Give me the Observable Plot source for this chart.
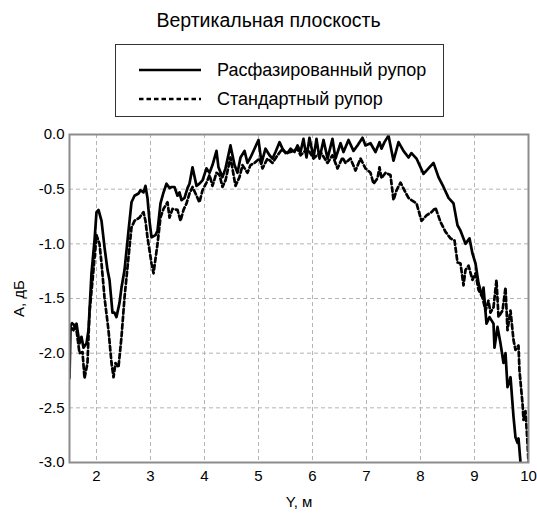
<!DOCTYPE html>
<html>
<head>
<meta charset="utf-8">
<script src="https://cdn.jsdelivr.net/npm/d3@7"></script>
<script src="https://cdn.jsdelivr.net/npm/@observablehq/plot@0.6"></script>
<style>
  html, body { margin: 0; padding: 0; background: #fff; }
  body { width: 537px; height: 513px; position: relative; font-family: "Liberation Sans", Arial, sans-serif; color: #000; overflow: hidden; }
  #title { position: absolute; left: 0; top: 9px; width: 537px; text-align: center; font-size: 19.5px; }
  #legend { position: absolute; left: 115px; top: 44px; width: 329px; height: 73px; border: 1.5px solid #333; box-sizing: border-box; background: #fff; }
  .row { position: absolute; left: 0; height: 22px; display: flex; align-items: center; font-size: 18px; }
  .row svg { margin-left: 23px; margin-right: 16px; }
  #chart { position: absolute; left: 0; top: 120px; }
</style>
</head>
<body>
<div id="title"></div>
<div id="legend"></div>
<div id="chart"></div>
<script>
const titleText = "Вертикальная плоскость";
const seriesNames = ["Расфазированный рупор", "Стандартный рупор"];
const xLabel = "Y, м";
const yLabel = "А, дБ";
const xTicks = [2, 3, 4, 5, 6, 7, 8, 9, 10];
const yTicks = [0, -0.5, -1, -1.5, -2, -2.5, -3];

// Series 1: phased horn (solid)
const solidX = [1.5,1.519,1.574,1.630,1.685,1.722,1.759,1.815,1.852,1.907,1.963,2.0,2.037,2.093,2.148,2.204,2.241,2.296,2.333,2.370,2.426,2.463,2.519,2.593,2.648,2.704,2.778,2.815,2.870,2.907,2.944,2.981,3.019,3.093,3.130,3.185,3.241,3.296,3.352,3.389,3.444,3.5,3.537,3.574,3.630,3.685,3.722,3.778,3.852,3.907,3.963,4.037,4.093,4.148,4.222,4.259,4.333,4.389,4.481,4.556,4.611,4.667,4.741,4.796,4.852,4.926,5.0,5.056,5.130,5.204,5.259,5.315,5.389,5.463,5.537,5.593,5.667,5.722,5.778,5.833,5.889,5.944,6.019,6.074,6.130,6.204,6.278,6.370,6.426,6.519,6.574,6.667,6.759,6.833,6.926,6.981,7.074,7.167,7.241,7.278,7.333,7.407,7.5,7.593,7.685,7.778,7.833,7.926,8.056,8.148,8.241,8.333,8.426,8.519,8.611,8.685,8.741,8.833,8.907,8.963,9.019,9.074,9.148,9.167,9.222,9.278,9.352,9.370,9.426,9.481,9.537,9.574,9.611,9.667,9.722,9.759,9.796,9.815,9.852];
const solidY = [-2.23,-1.76,-1.79,-1.73,-1.91,-1.85,-1.95,-1.91,-1.79,-1.27,-0.97,-0.71,-0.69,-0.79,-1.03,-1.24,-1.33,-1.63,-1.63,-1.67,-1.54,-1.40,-1.24,-0.88,-0.62,-0.56,-0.54,-0.51,-0.53,-0.47,-0.58,-0.79,-0.94,-0.92,-0.88,-0.63,-0.53,-0.45,-0.49,-0.48,-0.48,-0.56,-0.53,-0.60,-0.58,-0.49,-0.45,-0.30,-0.47,-0.45,-0.42,-0.31,-0.35,-0.28,-0.15,-0.30,-0.39,-0.31,-0.10,-0.28,-0.35,-0.21,-0.15,-0.26,-0.21,-0.13,-0.05,-0.26,-0.13,-0.19,-0.22,-0.16,-0.07,-0.15,-0.17,-0.13,-0.16,-0.10,-0.16,-0.04,-0.21,-0.03,-0.21,-0.04,-0.22,-0.05,-0.22,-0.04,-0.22,-0.08,-0.16,-0.05,-0.15,-0.10,-0.03,-0.10,-0.08,-0.16,-0.07,-0.13,-0.07,-0.01,-0.24,-0.07,-0.15,-0.21,-0.17,-0.22,-0.36,-0.31,-0.26,-0.39,-0.48,-0.58,-0.63,-0.83,-0.88,-1.00,-0.95,-1.09,-1.18,-1.36,-1.49,-1.40,-1.73,-1.67,-1.73,-1.95,-1.76,-1.91,-2.09,-2.00,-2.31,-2.22,-2.58,-2.77,-2.82,-2.78,-3.00];

// Series 2: standard horn (dashed)
const dashX = [1.5,1.556,1.630,1.685,1.741,1.778,1.833,1.870,1.944,2.0,2.056,2.093,2.148,2.222,2.278,2.315,2.352,2.407,2.463,2.519,2.593,2.648,2.704,2.796,2.870,2.907,2.944,3.019,3.056,3.130,3.185,3.241,3.315,3.352,3.407,3.5,3.556,3.611,3.667,3.722,3.778,3.852,3.907,3.963,4.037,4.093,4.148,4.222,4.278,4.333,4.389,4.481,4.574,4.648,4.704,4.796,4.852,4.926,5.019,5.074,5.167,5.259,5.352,5.444,5.5,5.593,5.722,5.778,5.907,6.019,6.148,6.278,6.370,6.463,6.556,6.611,6.704,6.796,6.889,6.981,7.074,7.130,7.204,7.241,7.278,7.352,7.444,7.5,7.556,7.630,7.722,7.778,7.833,7.926,8.019,8.111,8.204,8.278,8.370,8.463,8.556,8.630,8.685,8.741,8.796,8.833,8.889,8.963,9.019,9.074,9.148,9.204,9.259,9.296,9.352,9.407,9.444,9.519,9.574,9.611,9.667,9.722,9.759,9.815,9.833,9.889,9.907,9.944,9.981,10.0];
const dashY = [-1.76,-1.72,-1.79,-2.00,-1.99,-2.23,-2.09,-1.63,-1.24,-0.92,-1.00,-1.18,-1.49,-1.79,-2.09,-2.22,-2.09,-2.13,-1.85,-1.49,-1.12,-0.85,-0.79,-0.76,-0.71,-0.79,-0.94,-1.18,-1.27,-1.00,-0.76,-0.68,-0.62,-0.76,-0.68,-0.69,-0.79,-0.69,-0.63,-0.54,-0.48,-0.56,-0.62,-0.51,-0.44,-0.37,-0.47,-0.35,-0.37,-0.48,-0.42,-0.21,-0.47,-0.39,-0.28,-0.35,-0.28,-0.26,-0.22,-0.31,-0.22,-0.26,-0.19,-0.13,-0.17,-0.16,-0.13,-0.19,-0.13,-0.22,-0.16,-0.26,-0.19,-0.31,-0.21,-0.26,-0.22,-0.33,-0.22,-0.31,-0.35,-0.45,-0.40,-0.30,-0.40,-0.35,-0.37,-0.60,-0.51,-0.44,-0.53,-0.58,-0.60,-0.63,-0.79,-0.74,-0.71,-0.67,-0.80,-0.89,-0.95,-0.97,-1.17,-1.18,-1.38,-1.24,-1.20,-1.33,-1.27,-1.42,-1.49,-1.61,-1.52,-1.63,-1.58,-1.33,-1.67,-1.61,-1.40,-1.79,-1.61,-1.88,-1.97,-1.93,-2.16,-2.46,-2.61,-2.53,-2.82,-3.00];

const solid = solidX.map((x, i) => ({x, y: solidY[i]}));
const dashed = dashX.map((x, i) => ({x, y: dashY[i]}));

const DASH = "4.5,3";

document.getElementById("title").textContent = titleText;

// HTML legend
const legend = document.getElementById("legend");
[[seriesNames[0], null, 14], [seriesNames[1], DASH, 43]].forEach(([name, dash, top]) => {
  const row = document.createElement("div");
  row.className = "row";
  row.style.top = top + "px";
  row.innerHTML = `<svg width="62" height="6"><line x1="0" y1="3" x2="62" y2="3" stroke="#000" stroke-width="2.5" ${dash ? `stroke-dasharray="${dash}"` : ""}/></svg><span>${name}</span>`;
  legend.appendChild(row);
});

const chart = Plot.plot({
  width: 537,
  height: 393,
  marginTop: 14,
  marginBottom: 51,
  marginLeft: 69,
  marginRight: 9,
  style: {fontFamily: "Liberation Sans, Arial, sans-serif", fontSize: "15px", color: "#000", background: "#fff"},
  x: {domain: [1.5, 10]},
  y: {domain: [-3, 0]},
  marks: [
    Plot.gridX(xTicks, {stroke: "#b4b4b4", strokeOpacity: 1, strokeDasharray: "4,3"}),
    Plot.gridY(yTicks, {stroke: "#b4b4b4", strokeOpacity: 1, strokeDasharray: "4,3"}),
    Plot.line(dashed, {x: "x", y: "y", stroke: "#000", strokeWidth: 2.7, strokeDasharray: DASH, clip: true}),
    Plot.line(solid, {x: "x", y: "y", stroke: "#000", strokeWidth: 2.7, clip: true}),
    Plot.frame({stroke: "#8c8c8c", strokeWidth: 2}),
    Plot.axisX(xTicks, {tickSize: 0, tickPadding: 8, tickFormat: d => String(d), label: xLabel, labelAnchor: "center", labelArrow: "none", labelOffset: 44, fontSize: 15}),
    Plot.axisY(yTicks, {tickSize: 0, tickPadding: 5, tickFormat: d => d.toFixed(1), label: yLabel, labelAnchor: "center", labelArrow: "none", labelOffset: 56, fontSize: 15})
  ]
});
document.getElementById("chart").appendChild(chart);
</script>
</body>
</html>
